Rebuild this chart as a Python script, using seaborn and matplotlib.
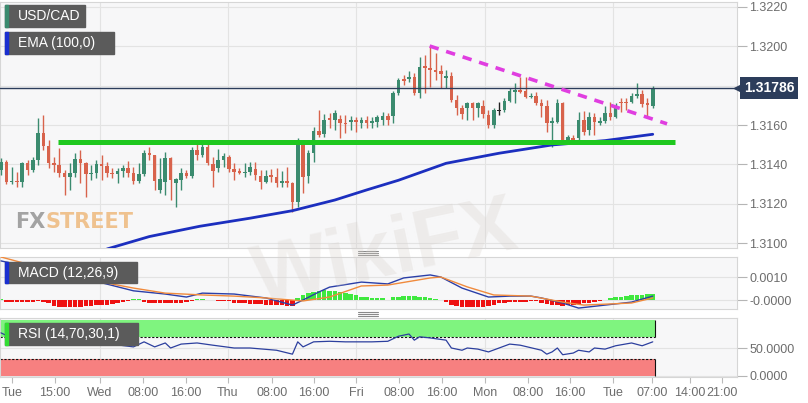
import numpy as np
import pandas as pd
import matplotlib
matplotlib.use("Agg")
import matplotlib.pyplot as plt
import matplotlib.transforms as mtransforms
from matplotlib.patches import Rectangle
from matplotlib.lines import Line2D
from matplotlib import font_manager
import seaborn as sns

# USD/CAD hourly candles
opens = [1.31372, 1.31413, 1.31311, 1.31317, 1.31311, 1.31408, 1.31372, 1.31423, 1.31560, 1.31494,
         1.31408, 1.31398, 1.31357, 1.31337, 1.31357, 1.31428, 1.31408, 1.31352, 1.31357, 1.31403,
         1.31392, 1.31357, 1.31352, 1.31367, 1.31382, 1.31357, 1.31317, 1.31352, 1.31458, 1.31448,
         1.31271, 1.31311, 1.31433, 1.31306, 1.31322, 1.31357, 1.31342, 1.31474, 1.31448, 1.31489,
         1.31403, 1.31382, 1.31423, 1.31438, 1.31377, 1.31367, 1.31357, 1.31362, 1.31377, 1.31342,
         1.31311, 1.31347, 1.31337, 1.31306, 1.31317, 1.31306, 1.31210, 1.31504, 1.31342, 1.31458,
         1.31570, 1.31555, 1.31636, 1.31625, 1.31630, 1.31610, 1.31615, 1.31625, 1.31610, 1.31625,
         1.31610, 1.31615, 1.31625, 1.31646, 1.31646, 1.31762, 1.31833, 1.31833, 1.31843, 1.31762,
         1.31899, 1.31889, 1.31879, 1.31874, 1.31838, 1.31848, 1.31727, 1.31686, 1.31686, 1.31711,
         1.31686, 1.31696, 1.31651, 1.31600, 1.31671, 1.31676, 1.31722, 1.31767, 1.31777, 1.31772,
         1.31742, 1.31747, 1.31711, 1.31696, 1.31610, 1.31615, 1.31711, 1.31519, 1.31534, 1.31534,
         1.31625, 1.31575, 1.31641, 1.31610, 1.31620, 1.31661, 1.31641, 1.31717, 1.31717, 1.31717,
         1.31747, 1.31757, 1.31711, 1.31696]
closes = [1.31413, 1.31311, 1.31317, 1.31311, 1.31408, 1.31372, 1.31423, 1.31560, 1.31494, 1.31408,
          1.31398, 1.31357, 1.31337, 1.31357, 1.31428, 1.31408, 1.31352, 1.31357, 1.31403, 1.31392,
          1.31357, 1.31352, 1.31367, 1.31382, 1.31357, 1.31317, 1.31352, 1.31458, 1.31448, 1.31317,
          1.31327, 1.31433, 1.31322, 1.31327, 1.31357, 1.31342, 1.31474, 1.31448, 1.31489, 1.31408,
          1.31367, 1.31423, 1.31443, 1.31377, 1.31362, 1.31357, 1.31362, 1.31387, 1.31347, 1.31311,
          1.31342, 1.31337, 1.31306, 1.31317, 1.31306, 1.31210, 1.31504, 1.31337, 1.31458, 1.31570,
          1.31549, 1.31625, 1.31625, 1.31661, 1.31610, 1.31605, 1.31625, 1.31615, 1.31625, 1.31610,
          1.31620, 1.31641, 1.31646, 1.31625, 1.31762, 1.31828, 1.31823, 1.31843, 1.31762, 1.31894,
          1.31889, 1.31879, 1.31868, 1.31858, 1.31848, 1.31727, 1.31686, 1.31656, 1.31711, 1.31686,
          1.31711, 1.31656, 1.31600, 1.31676, 1.31671, 1.31722, 1.31772, 1.31777, 1.31767, 1.31742,
          1.31747, 1.31711, 1.31696, 1.31610, 1.31620, 1.31711, 1.31519, 1.31539, 1.31519, 1.31625,
          1.31565, 1.31641, 1.31615, 1.31620, 1.31661, 1.31641, 1.31686, 1.31711, 1.31711, 1.31747,
          1.31757, 1.31706, 1.31701, 1.31786]
highs = [1.31433, 1.31423, 1.31387, 1.31362, 1.31413, 1.31423, 1.31438, 1.31636, 1.31651, 1.31524,
         1.31438, 1.31484, 1.31372, 1.31408, 1.31458, 1.31474, 1.31413, 1.31398, 1.31423, 1.31448,
         1.31413, 1.31382, 1.31382, 1.31398, 1.31418, 1.31387, 1.31408, 1.31474, 1.31489, 1.31448,
         1.31433, 1.31463, 1.31438, 1.31332, 1.31382, 1.31372, 1.31489, 1.31524, 1.31524, 1.31514,
         1.31438, 1.31479, 1.31458, 1.31448, 1.31408, 1.31382, 1.31408, 1.31413, 1.31413, 1.31372,
         1.31372, 1.31377, 1.31382, 1.31367, 1.31387, 1.31311, 1.31534, 1.31514, 1.31474, 1.31590,
         1.31676, 1.31656, 1.31661, 1.31676, 1.31651, 1.31651, 1.31646, 1.31641, 1.31641, 1.31646,
         1.31641, 1.31651, 1.31666, 1.31661, 1.31772, 1.31838, 1.31853, 1.31874, 1.31863, 1.31944,
         1.31955, 1.32000, 1.31965, 1.31904, 1.31879, 1.31868, 1.31752, 1.31701, 1.31717, 1.31717,
         1.31717, 1.31727, 1.31676, 1.31686, 1.31717, 1.31737, 1.31787, 1.31813, 1.31843, 1.31843,
         1.31762, 1.31767, 1.31732, 1.31727, 1.31641, 1.31732, 1.31717, 1.31549, 1.31549, 1.31666,
         1.31671, 1.31666, 1.31661, 1.31641, 1.31696, 1.31717, 1.31711, 1.31737, 1.31737, 1.31762,
         1.31813, 1.31777, 1.31737, 1.31798]
lows = [1.31347, 1.31301, 1.31301, 1.31286, 1.31286, 1.31347, 1.31362, 1.31398, 1.31474, 1.31382,
        1.31362, 1.31337, 1.31246, 1.31271, 1.31337, 1.31306, 1.31236, 1.31322, 1.31332, 1.31322,
        1.31337, 1.31332, 1.31306, 1.31337, 1.31337, 1.31301, 1.31306, 1.31342, 1.31423, 1.31271,
        1.31256, 1.31246, 1.31220, 1.31185, 1.31271, 1.31332, 1.31332, 1.31423, 1.31438, 1.31398,
        1.31286, 1.31362, 1.31387, 1.31362, 1.31322, 1.31352, 1.31337, 1.31347, 1.31322, 1.31276,
        1.31306, 1.31311, 1.31286, 1.31286, 1.31286, 1.31160, 1.31185, 1.31256, 1.31306, 1.31413,
        1.31539, 1.31539, 1.31585, 1.31575, 1.31534, 1.31560, 1.31575, 1.31565, 1.31585, 1.31585,
        1.31585, 1.31590, 1.31600, 1.31600, 1.31610, 1.31752, 1.31803, 1.31818, 1.31752, 1.31737,
        1.31762, 1.31792, 1.31828, 1.31787, 1.31787, 1.31717, 1.31651, 1.31630, 1.31625, 1.31625,
        1.31641, 1.31636, 1.31585, 1.31585, 1.31651, 1.31666, 1.31717, 1.31711, 1.31762, 1.31737,
        1.31737, 1.31701, 1.31641, 1.31565, 1.31489, 1.31610, 1.31509, 1.31509, 1.31509, 1.31514,
        1.31549, 1.31549, 1.31549, 1.31600, 1.31610, 1.31625, 1.31636, 1.31666, 1.31676, 1.31711,
        1.31737, 1.31691, 1.31636, 1.31686]

# EMA(100) read at a few candles
ema_idx = [20, 28, 37.5, 47, 55, 63, 69, 75, 84, 94, 104, 114, 123]
ema_val = [1.30972, 1.31035, 1.31087, 1.31128, 1.31166, 1.31220, 1.31271, 1.31320,
           1.31406, 1.31457, 1.31499, 1.31521, 1.31553]

# MACD (12,26,9), values in 1e-4
macd_idx = [0, 6, 12, 19, 25, 31, 35, 38, 44, 50, 55, 57, 60, 62, 68, 73, 76, 81, 83,
            87, 92, 96, 100, 102, 106, 109, 114, 119, 123]
macd_val = [17, 14, 10, 7.5, 4, 2.6, 1.3, 3, 2.6, 0.9, -2.2, 0, 3.5, 5.6, 7.8, 7, 9.6, 10.9, 10,
            5.2, 1.3, 1.7, 1.7, 0.9, -1.3, -3.5, -2.2, -0.9, 1.7]
signal_idx = [0, 6, 12, 19, 25, 31, 38, 44, 50, 57, 62, 68, 73, 81, 83, 88, 93, 100, 106,
              110, 119, 123]
signal_val = [18.7, 15, 11, 7.8, 5.2, 3, 2.2, 1.7, 0.9, -0.4, 1.3, 6.1, 6.5, 9.6, 10, 5.7,
              2.2, 1.7, -0.9, -2.2, -1.3, 0.9]
hist_val = [0.5, -1, -1, -1, -1, -1, -0.8, -0.5, -0.8,
            -1.5, -2.5, -3, -3, -3, -3, -3, -2.8, -2.5, -2.2,
            -2, -2, -1.8, -1.5, -1, -0.3, 0.3, 0.3,
            -0.8, -1.2, -1.5, -1.5, -1.5, -1.5, -1.3, -1.2, -1, -0.3, 0.3, 0.3,
            0, -0.2, -0.3, -0.3, -0.5,
            -1.5, -1.5, -1.5, -1.7, -1.8, -1.8, -2, -2, -2, -2.2, -2.5, -2.5,
            1, 2, 3, 3.5, 4, 4.2, 4, 3.8, 3.5, 3, 2.5, 2,
            1.5, 1.2, 1, 1, 0.8, 0.2,
            1.2, 1.5, 1.8, 1.8, 1.8, 1.5, 1.5, 0.8, 0.5, 0.2,
            -1, -2, -2.5, -3, -3, -3.2, -3.2, -3, -2.8, -2.2, -1.5, -1.2,
            -0.8, -0.8, -0.8, -0.8, -0.6, -0.5,
            -1.5, -1.8, -2, -2.2, -2.5, -2.3, -2, -1.8, -1.5, -1.2, -0.8,
            -0.3, 0.2, 1, 1.2, 1.5, 1.8, 2, 2, 2.2, 2.5, 2.5]

# RSI (14,70,30,1)
rsi_idx = [0, 2, 6, 12, 19, 25, 27, 29, 31, 32, 34, 37, 40, 44, 47, 52, 55, 56, 57, 59, 62,
           65, 70, 73, 75, 77, 78, 79, 81, 84, 85, 87, 88, 90, 92, 94, 96, 98, 102, 103, 104,
           105, 106, 108, 109, 111, 112, 114, 116, 119, 121, 123]
rsi_val = [77, 68, 68, 62, 59, 52, 61, 52, 59, 50, 57, 59, 55, 50, 50, 46, 39, 61, 52, 61, 62,
           61, 61, 62, 71, 75, 64, 70, 68, 64, 50, 46, 50, 48, 43, 50, 57, 55, 46, 39, 43,
           50, 38, 41, 46, 43, 50, 48, 54, 59, 54, 61]
rsi_upper, rsi_lower = 70, 30

tick_pos = [2.1, 10.2, 18.7, 26.8, 34.9, 42.8, 51.1, 59.1, 67.0, 75.1, 83.2, 91.3, 99.4,
            107.4, 115.5, 122.8, 130.0, 136.0]
tick_labels = ["Tue", "15:00", "Wed", "08:00", "16:00", "Thu", "08:00", "16:00", "Fri",
               "08:00", "16:00", "Mon", "08:00", "16:00", "Tue", "07:00", "14:00", "21:00"]
day_pos = [18.7, 42.8, 67.0, 91.3, 115.5]
price_ticks = [1.3100, 1.3120, 1.3140, 1.3160, 1.3180, 1.3200, 1.3220]

support_level = 1.31512
support_span = (10.75, 127.2)
trend_x = [80.9, 125.7]
trend_y = [1.32000, 1.31606]
last_price = 1.31786

UP = "#3b8b6f"
DOWN = "#d8634c"
GRID = "#e3e3e3"
NAVY = "#2c3d5b"
W, H = 808, 403


def frac(l, t, r, b):
    return [l / W, 1 - b / H, (r - l) / W, (b - t) / H]


def label_box(fig, l, t, r, b, stripe, text):
    fig.add_artist(Rectangle((l / W, 1 - b / H), (r - l) / W, (b - t) / H,
                             transform=fig.transFigure, color="#5b5b5b", zorder=10))
    fig.add_artist(Rectangle((l / W, 1 - b / H), 2.5 / W, (b - t) / H,
                             transform=fig.transFigure, color=stripe, zorder=11))
    fig.text((l + 13) / W, 1 - (t + b) / 2 / H, text, color="white", fontsize=10,
             va="center", ha="left", zorder=12)


def style_axis(ax):
    ax.set_facecolor("#f7f7f8")
    for s in ax.spines.values():
        s.set_color("#d6d6d6")
        s.set_linewidth(0.8)
    ax.yaxis.tick_right()
    ax.tick_params(axis="y", which="both", right=True, left=False, length=7, width=0.8,
                   color="#b5b5b5", labelcolor="#6d6d6d", labelsize=9, pad=2)
    ax.yaxis.grid(True, color=GRID, lw=0.8)
    ax.xaxis.grid(False)
    for d in day_pos:
        ax.axvline(d, color=GRID, lw=0.8, zorder=0.5)


def main():
    sns.set_theme(style="white")
    plt.rcParams["font.family"] = ["Liberation Sans", "DejaVu Sans"]

    fig = plt.figure(figsize=(W / 100, H / 100), dpi=100)
    fig.patch.set_facecolor("white")

    ax = fig.add_axes(frac(0, 2, 737, 248))
    ax_m = fig.add_axes(frac(0, 257, 737, 309), sharex=ax)
    ax_r = fig.add_axes(frac(0, 318, 737, 377), sharex=ax)
    for a in (ax, ax_m, ax_r):
        style_axis(a)

    n = len(closes)
    df = pd.DataFrame({"i": np.arange(n), "o": opens, "h": highs, "l": lows, "c": closes})
    df["col"] = np.where(df.c > df.o, UP, np.where(df.c < df.o, DOWN, "#222222"))

    # candles
    ax.vlines(df.i, df.l, df.h, colors=df.col, lw=1, zorder=3)
    body_lo = np.minimum(df.o, df.c)
    body_h = np.maximum((df.c - df.o).abs(), 0.00003)
    ax.bar(df.i, body_h, bottom=body_lo, width=0.68, color=df.col, linewidth=0, zorder=3)

    sns.lineplot(x=ema_idx, y=ema_val, ax=ax, color="#1c2fbf", linewidth=2, zorder=4)
    ax.hlines(support_level, *support_span, color="#1fc81f", lw=3.6, zorder=5)
    ax.plot(trend_x, trend_y, color="#e03ee0", lw=2.6, ls=(0, (2.6, 2.2)), zorder=5)
    ax.axhline(last_price, color=NAVY, lw=1, zorder=4)

    ax.set_xlim(-0.19, 138.9)
    ax.set_ylim(1.30977, 1.32223)
    ax.set_yticks(price_ticks)
    # the 1.3180 label sits under the last-price tag
    ax.set_yticklabels(["" if abs(v - last_price) < 0.0005 else f"{v:.4f}" for v in price_ticks])
    ax.tick_params(axis="x", bottom=False, labelbottom=False)

    blend = mtransforms.blended_transform_factory(ax.transAxes, ax.transData)
    ax.text(1 + 7 / 737, last_price, f"{last_price:.5f}", transform=blend, ha="left",
            va="center", color="white", fontsize=10, fontweight="bold", zorder=20,
            clip_on=False, bbox=dict(boxstyle="square,pad=0.28", fc=NAVY, ec="none"))
    ax.plot([1 + 1 / 737], [last_price], marker="<", ms=6, color=NAVY, transform=blend,
            clip_on=False, zorder=20)

    # MACD panel
    hist = np.array(hist_val) * 1e-4
    ax_m.bar(df.i, hist, width=0.85, color=np.where(hist >= 0, "#3fe83f", "#ee1111"),
             linewidth=0, zorder=2)
    sns.lineplot(x=macd_idx, y=np.array(macd_val) * 1e-4, ax=ax_m, color="#2b3fa8",
                 linewidth=1, zorder=3)
    sns.lineplot(x=signal_idx, y=np.array(signal_val) * 1e-4, ax=ax_m, color="#f08a3c",
                 linewidth=1, zorder=3)
    ax_m.set_ylim(-0.00039, 0.00187)
    ax_m.set_yticks([0, 0.001])
    ax_m.set_yticklabels(["-0.0000", "0.0010"])
    ax_m.tick_params(axis="x", bottom=False, labelbottom=False)

    # RSI panel
    x0, x1 = -0.19, n - 1 + 0.4
    ax_r.fill_between([x0, x1], rsi_upper, 100, color="#7ff47f", lw=0, zorder=1)
    ax_r.fill_between([x0, x1], 0, rsi_lower, color="#f78080", lw=0, zorder=1)
    ax_r.hlines([rsi_upper, rsi_lower], x0, x1, colors="#111111", lw=0.8,
                linestyles=(0, (2, 1.5)), zorder=2)
    ax_r.vlines(x1, rsi_upper, 100, colors="#111111", lw=0.8, zorder=2)
    ax_r.vlines(x1, 0, rsi_lower, colors="#111111", lw=0.8, zorder=2)
    sns.lineplot(x=rsi_idx, y=rsi_val, ax=ax_r, color="#2c3f9e", linewidth=0.9, zorder=3)
    ax_r.set_ylim(-1.8, 103.6)
    ax_r.set_yticks([0, 50])
    ax_r.set_yticklabels(["0.0000", "50.0000"])
    ax_r.set_xticks(tick_pos)
    ax_r.set_xticklabels(tick_labels)
    ax_r.tick_params(axis="x", bottom=True, length=4, width=0.8, color="#bbbbbb",
                     labelcolor="#6d6d6d", labelsize=9, pad=3)
    for a in (ax, ax_m, ax_r):
        a.set_xlabel("")
        a.set_ylabel("")

    # legends / labels
    label_box(fig, 5, 5, 85, 27, UP, "USD/CAD")
    label_box(fig, 5, 32, 114, 54, "#1a2fd0", "EMA (100,0)")
    label_box(fig, 5, 262, 137, 283, "#1a2fd0", "MACD (12,26,9)")
    label_box(fig, 5, 323, 138, 345, "#33dd33", "RSI (14,70,30,1)")

    # panel drag handles
    for yc in (252.5, 313.5):
        for dy in (-2, 0, 2):
            fig.add_artist(Line2D([358 / W, 378 / W], [1 - (yc + dy) / H] * 2,
                                  transform=fig.transFigure, color="#8a8a8a", lw=0.8))

    # watermarks
    names = {f.name for f in font_manager.fontManager.ttflist}
    wm_family = "Liberation Sans Narrow" if "Liberation Sans Narrow" in names else "DejaVu Sans"
    wm_size = 24 if wm_family != "DejaVu Sans" else 15
    fx = fig.text(15 / W, 1 - 228 / H, "FX", color="#a3a3a3", fontsize=wm_size,
                  fontweight="bold", family=wm_family, va="baseline", zorder=6)
    ax.annotate("STREET", xy=(1, 0), xycoords=fx, va="bottom", ha="left",
                color="#efc28f", fontsize=wm_size, fontweight="bold", family=wm_family,
                annotation_clip=False, zorder=6)
    fig.text(385 / W, 1 - 255 / H, "WikiFX", color="#d8d2cc", alpha=0.3, fontsize=58,
             fontweight="bold", rotation=12, ha="center", va="center", zorder=30)

    fig.savefig("out.png", dpi=100, facecolor="white")


if __name__ == "__main__":
    main()
